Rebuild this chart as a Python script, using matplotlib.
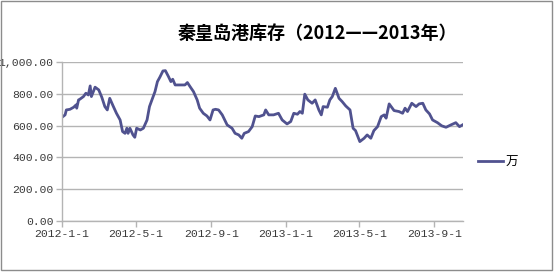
import matplotlib
matplotlib.use('Agg')
import matplotlib.pyplot as plt
from matplotlib.patches import Rectangle
from matplotlib.ticker import FuncFormatter
import pandas as pd

# Данные (дата, запас)
dates = ['2012-01-01', '2012-01-06', '2012-01-08', '2012-01-14', '2012-01-20', '2012-01-24',
         '2012-01-25', '2012-01-28', '2012-01-30', '2012-02-05', '2012-02-09', '2012-02-13',
         '2012-02-16', '2012-02-18', '2012-02-24', '2012-03-01', '2012-03-06', '2012-03-11',
         '2012-03-15', '2012-03-19', '2012-03-25', '2012-03-30', '2012-04-05', '2012-04-09',
         '2012-04-13', '2012-04-16', '2012-04-18', '2012-04-21', '2012-04-26', '2012-04-29',
         '2012-05-02', '2012-05-08', '2012-05-13', '2012-05-19', '2012-05-23', '2012-05-27',
         '2012-06-01', '2012-06-05', '2012-06-09', '2012-06-14', '2012-06-18', '2012-06-23',
         '2012-06-27', '2012-06-30', '2012-07-04', '2012-07-12', '2012-07-20', '2012-07-24',
         '2012-07-29', '2012-08-03', '2012-08-09', '2012-08-13', '2012-08-19', '2012-08-25',
         '2012-08-30', '2012-09-04', '2012-09-08', '2012-09-13', '2012-09-19', '2012-09-27',
         '2012-10-05', '2012-10-10', '2012-10-16', '2012-10-21', '2012-10-25', '2012-11-01',
         '2012-11-07', '2012-11-12', '2012-11-18', '2012-11-26', '2012-11-29', '2012-12-04',
         '2012-12-12', '2012-12-20', '2012-12-26', '2013-01-03', '2013-01-09', '2013-01-14',
         '2013-01-20', '2013-01-24', '2013-01-28', '2013-02-01', '2013-02-06', '2013-02-13',
         '2013-02-18', '2013-02-24', '2013-02-28', '2013-03-03', '2013-03-10', '2013-03-14',
         '2013-03-18', '2013-03-23', '2013-03-29', '2013-04-03', '2013-04-09', '2013-04-16',
         '2013-04-21', '2013-04-25', '2013-05-02', '2013-05-09', '2013-05-14', '2013-05-20',
         '2013-05-25', '2013-05-31', '2013-06-06', '2013-06-11', '2013-06-14', '2013-06-19',
         '2013-06-27', '2013-07-05', '2013-07-11', '2013-07-15', '2013-07-19', '2013-07-26',
         '2013-08-02', '2013-08-07', '2013-08-13', '2013-08-18', '2013-08-24', '2013-08-29',
         '2013-09-06', '2013-09-13', '2013-09-20', '2013-09-28', '2013-10-06', '2013-10-12',
         '2013-10-17']
stock = [652, 667, 698, 702, 715, 730,
         709, 761, 765, 782, 803, 792,
         849, 782, 841, 824, 778, 719,
         698, 771, 719, 677, 635, 562,
         551, 583, 551, 583, 541, 526,
         583, 572, 583, 635, 719, 761,
         813, 876, 904, 943, 945, 908,
         876, 891, 855, 855, 855, 870,
         841, 813, 761, 709, 677, 660,
         635, 698, 702, 698, 667, 604,
         583, 551, 541, 520, 551, 562,
         593, 660, 656, 667, 698, 667,
         667, 677, 635, 610, 625, 677,
         671, 688, 677, 797, 761, 740,
         761, 698, 667, 719, 715, 761,
         782, 834, 771, 751, 723, 698,
         583, 568, 499, 520, 541, 520,
         568, 593, 656, 667, 646, 736,
         694, 688, 677, 709, 688, 740,
         719, 736, 740, 698, 673, 635,
         618, 598, 589, 604, 618, 593,
         604]
tick_dates = ['2012-01-01', '2012-05-01', '2012-09-01', '2013-01-01', '2013-05-01', '2013-09-01']
tick_labels = ['2012-1-1', '2012-5-1', '2012-9-1', '2013-1-1', '2013-5-1', '2013-9-1']
yticks = [0, 200, 400, 600, 800, 1000]

x = pd.to_datetime(dates)

fig = plt.figure(figsize=(5.54, 2.72), dpi=100)
ax = fig.add_axes([0.112, 0.1875, 0.724, 0.585])

line_color = '#50528f'
grid_color = '#b4b4b4'
cjk = ['Noto Sans CJK SC', 'DejaVu Sans']

ax.plot(x, stock, color=line_color, linewidth=2.0, label='万')

ax.set_ylim(0, 1000)
ax.set_xlim(pd.Timestamp('2012-01-01'), pd.Timestamp('2013-10-18'))
ax.set_yticks(yticks)
ax.yaxis.set_major_formatter(FuncFormatter(lambda v, p: '{:,.2f}'.format(v)))
ax.set_xticks(pd.to_datetime(tick_dates))
ax.set_xticklabels(tick_labels)

ax.grid(axis='y', color=grid_color, linewidth=1)
ax.set_axisbelow(True)
for s in ['top', 'right']:
    ax.spines[s].set_visible(False)
for s in ['left', 'bottom']:
    ax.spines[s].set_color(grid_color)
    ax.spines[s].set_linewidth(1)
ax.tick_params(axis='both', direction='out', length=4, color=grid_color, width=1,
               labelsize=8.2, labelcolor='#3a3a3a', pad=2)
for lab in ax.get_xticklabels() + ax.get_yticklabels():
    lab.set_family('Liberation Mono')

fig.text(0.573, 0.878, '秦皇岛港库存（2012——2013年）', ha='center', va='center',
         fontsize=13, fontweight='bold', family=cjk)

ax.legend(loc='center left', bbox_to_anchor=(1.01, 0.37), frameon=False,
          handlelength=2.0, handletextpad=0.15,
          prop={'family': cjk, 'size': 9})

# Рамка вокруг всей картинки
fig.patches.append(Rectangle((0.002, 0.006), 0.994, 0.99, transform=fig.transFigure,
                             fill=False, edgecolor='#8c8c8c', linewidth=1))

fig.savefig('out.png', dpi=100)
